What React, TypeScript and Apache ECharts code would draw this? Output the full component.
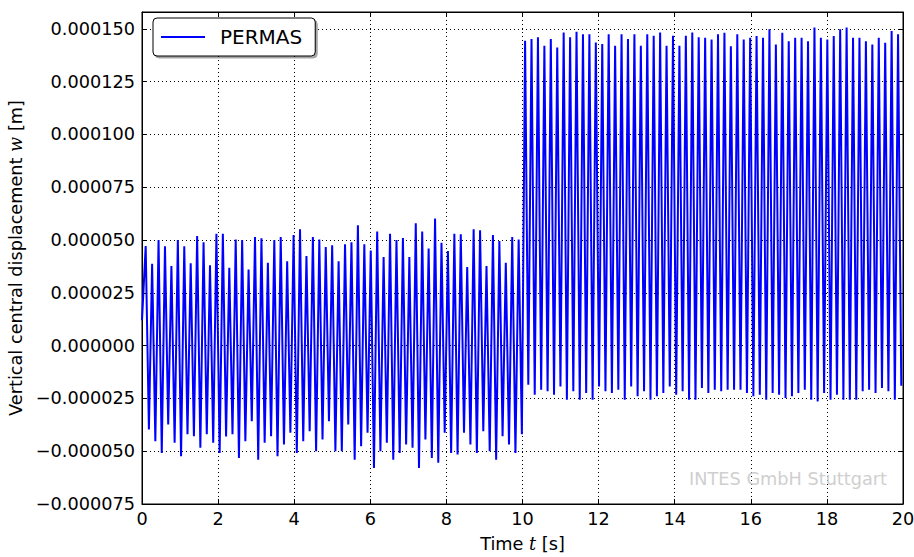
import React, { useEffect, useRef } from "react";
import * as echarts from "echarts";

// Vertical central displacement, values in micrometres (1e-6 m)
// one positive peak and the following trough per oscillation cycle
const startTime = 0;
const startValue = 12.0;
const firstPeakTime = 0.097; // s
const cyclePeriod = 0.169; // s

const phase1Peaks = [
  47.2, 38.8, 50.0, 47.0, 37.7, 50.0, 47.0, 39.0, 51.9, 49.0, 38.0, 53.0, 53.0, 36.9,
  50.3, 50.0, 36.1, 51.4, 50.8, 39.2, 50.0, 51.4, 40.0, 52.4, 55.1, 42.4, 51.4, 50.3, 46.7, 47.5,
  40.0, 48.0, 49.0, 57.0, 48.0, 45.0, 54.0, 42.0, 53.0, 50.0, 51.0, 42.0, 58.0, 54.0, 46.0,
  60.2, 48.7, 44.8, 53.0, 52.7, 37.2, 55.1, 54.6, 37.7, 52.4, 49.5, 39.2, 51.4, 50.3,
];
const phase1Troughs = [
  -39.7, -45.3, -50.8, -37.3, -46.0, -52.4, -42.0, -42.9, -48.4, -42.0, -46.0, -50.8, -43.0, -42.0,
  -53.2, -45.3, -35.8, -54.0, -46.0, -42.9, -52.4, -46.8, -41.3, -50.8, -45.3, -40.5, -50.0, -44.5, -35.8,
  -50.0, -50.0, -37.3, -54.0, -47.6, -41.3, -57.9, -50.0, -46.0, -54.0, -50.8, -46.8, -48.4, -57.9, -44.5,
  -53.2, -55.5, -41.3, -50.8, -51.6, -41.3, -46.8, -50.8, -40.5, -50.0, -54.0, -42.9, -46.8, -50.8, -42.0,
];
const phase2Peaks = [
  144.4, 145.2, 146.0, 142.0, 145.2, 141.2, 148.3, 146.0, 148.6, 147.5, 147.5, 143.6, 142.8, 147.5,
  142.0, 147.5, 145.2, 147.5, 142.0, 147.5, 146.7, 148.3, 142.0, 146.7, 142.0, 146.7, 148.3, 146.0,
  145.8, 145.0, 147.4, 148.2, 141.8, 147.4, 145.0, 145.8, 146.6, 145.8, 149.8, 142.6, 148.2, 144.2,
  145.8, 145.8, 144.2, 150.6, 145.8, 145.0, 146.6, 149.8, 150.6, 145.8, 145.8, 144.2, 142.6, 145.8,
  143.4, 149.0, 147.4,
];
const phase2Troughs = [
  -18.5, -23.2, -20.9, -21.6, -23.2, -19.3, -25.6, -21.6, -25.6, -22.4, -25.6, -19.3, -21.6, -22.4,
  -20.9, -25.6, -19.3, -24.0, -21.6, -25.6, -24.0, -22.4, -19.3, -23.2, -21.6, -25.6, -25.6,
  -20.1, -22.4, -20.9, -21.6, -20.9, -20.9, -20.9, -22.4, -24.0, -23.2, -25.6, -22.4, -23.2, -24.8,
  -24.0, -22.4, -20.9, -25.6, -26.4, -22.4, -25.6, -23.2, -25.6, -25.6, -25.6, -21.6, -20.9, -22.4,
  -20.1, -21.6, -25.6, -19.0,
];

const xTicks = { min: 0, max: 20, interval: 2 };
const yTicks = { min: -0.000075, max: 0.000158, interval: 0.000025 };
const seriesName = "PERMAS";
const watermark = "INTES GmbH Stuttgart";

function buildSeries(): [number, number][] {
  const peaks = phase1Peaks.concat(phase2Peaks);
  const troughs = phase1Troughs.concat(phase2Troughs);
  const pts: [number, number][] = [[startTime, startValue * 1e-6]];
  for (let i = 0; i < peaks.length; i++) {
    const tp = firstPeakTime + i * cyclePeriod;
    pts.push([tp, peaks[i] * 1e-6]);
    pts.push([tp + cyclePeriod / 2, troughs[i] * 1e-6]);
  }
  return pts;
}

const FONT = "DejaVu Sans";
const FS = 17.7;

export default function App() {
  const ref = useRef<HTMLDivElement>(null);
  useEffect(() => {
    if (!ref.current) return;
    const chart = echarts.init(ref.current, null, { renderer: "svg" });
    const fmtY = (v: number) => {
      const r = Math.round(v / yTicks.interval);
      if (Math.abs(v - r * yTicks.interval) > 1e-9) return "";
      return (r * yTicks.interval).toFixed(6).replace("-", "\u2212");
    };
    const tickStyle = { show: true, inside: true, length: 5, lineStyle: { color: "#000", width: 1 } };
    const axisLine = { show: true, onZero: false, lineStyle: { color: "#000", width: 1 } };
    const nameRich = {
      n: { fontFamily: FONT, fontSize: FS, color: "#000" },
      i: { fontFamily: "DejaVu Serif", fontStyle: "italic", fontSize: FS, color: "#000" },
    };
    chart.setOption({
      animation: false,
      backgroundColor: "#fff",
      grid: {
        left: 142,
        right: 11,
        top: 12,
        bottom: 53,
        outerBoundsMode: "none",
        containLabel: false,
        show: true,
        borderColor: "#000",
        borderWidth: 1,
        backgroundColor: "transparent",
      },
      legend: {
        left: 153,
        top: 18,
        data: [seriesName],
        icon: "rect",
        backgroundColor: "#fff",
        borderColor: "#000",
        borderWidth: 1,
        borderRadius: 4,
        padding: [9, 13, 9, 8],
        itemWidth: 44,
        itemHeight: 2,
        shadowColor: "rgba(0,0,0,0.35)",
        shadowOffsetX: 2,
        shadowOffsetY: 2,
        shadowBlur: 1,
        textStyle: { fontFamily: FONT, fontSize: 20, color: "#000", padding: [0, 0, 0, 10] },
      },
      xAxis: [
        {
          type: "value",
          min: xTicks.min,
          max: xTicks.max,
          interval: xTicks.interval,
          name: "{n|Time }{i|t}{n| [s]}",
          nameLocation: "middle",
          nameGap: 31,
          nameTextStyle: { rich: nameRich },
          axisLine,
          axisTick: tickStyle,
          axisLabel: { fontFamily: FONT, fontSize: FS, color: "#000", margin: 6 },
          splitLine: { show: true, lineStyle: { color: "#000", type: [1, 3], width: 1 } },
        },
        {
          type: "value",
          position: "top",
          min: xTicks.min,
          max: xTicks.max,
          interval: xTicks.interval,
          axisLine,
          axisTick: tickStyle,
          axisLabel: { show: false },
          splitLine: { show: false },
        },
      ],
      yAxis: [
        {
          type: "value",
          min: yTicks.min,
          max: yTicks.max,
          interval: yTicks.interval,
          name: "{n|Vertical central displacement }{i|w}{n| [m]}",
          nameLocation: "middle",
          nameGap: 115,
          nameTextStyle: { rich: nameRich },
          axisLine,
          axisTick: tickStyle,
          axisLabel: { fontFamily: FONT, fontSize: FS, color: "#000", margin: 7, formatter: fmtY, showMaxLabel: false },
          splitLine: { show: true, lineStyle: { color: "#000", type: [1, 3], width: 1 } },
        },
        {
          type: "value",
          position: "right",
          min: yTicks.min,
          max: yTicks.max,
          interval: yTicks.interval,
          axisLine,
          axisTick: tickStyle,
          axisLabel: { show: false },
          splitLine: { show: false },
        },
      ],
      graphic: [
        {
          type: "text",
          right: 27,
          top: 470,
          style: { text: watermark, fontFamily: FONT, fontSize: FS, fill: "#cfcfcf" },
          z: 1,
        },
      ],
      series: [
        {
          name: seriesName,
          type: "line",
          data: buildSeries(),
          showSymbol: false,
          symbol: "none",
          lineStyle: { color: "#0000ff", width: 2 },
          itemStyle: { color: "#0000ff" },
          z: 3,
        },
      ],
    });
    return () => chart.dispose();
  }, []);
  return <div ref={ref} style={{ position: "absolute", left: 0, top: 0, width: 914, height: 557 }} />;
}
